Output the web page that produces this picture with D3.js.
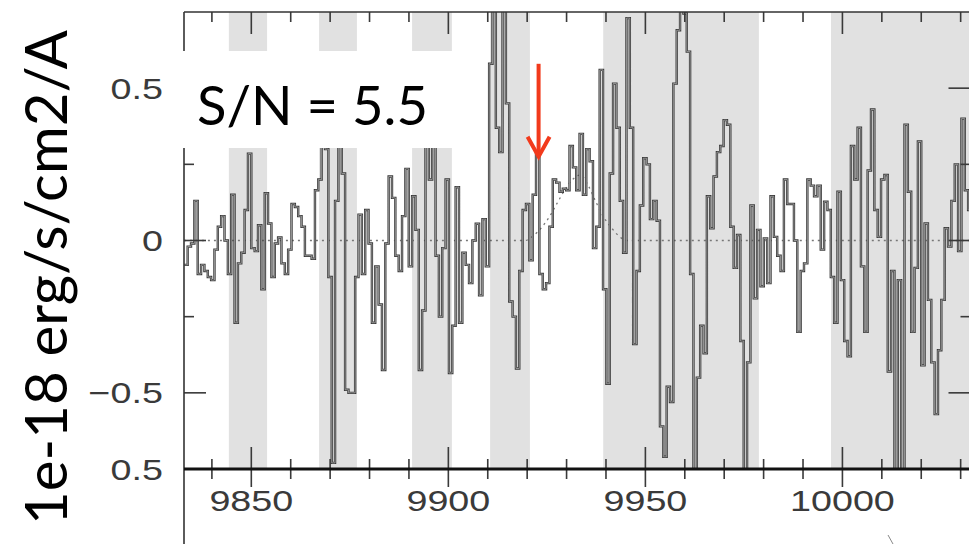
<!DOCTYPE html>
<html><head><meta charset="utf-8">
<script src="https://cdn.jsdelivr.net/npm/d3@7"></script>
<style>html,body{margin:0;padding:0;background:#fff;overflow:hidden}</style>
</head><body>
<svg id="chart" width="969" height="544"></svg>
<script>
// ---- data ----
const binStart = 9833.0;   // first pixel edge, Angstrom
const binWidth = 0.85;     // spectral pixel width, Angstrom
const flux = [
 -0.08,-0.02,-0.01,0.13,-0.11,-0.08,-0.1,-0.12,-0.13,-0.03,
 0.045,0.08,0.0,-0.11,0.15,-0.27,-0.075,-0.04,0.1,0.285,
 -0.025,-0.035,0.05,-0.16,0.155,0.056,-0.12,-0.01,0.01,-0.075,
 -0.11,-0.03,0.12,0.11,0.08,0.045,-0.05,-0.05,-0.06,0.165,
 0.2,0.35,0.3,-0.12,-0.73,0.13,0.38,0.22,-0.49,-0.5,
 -0.5,-0.12,0.085,-0.11,0.1,-0.01,-0.27,-0.085,-0.21,-0.425,
 -0.01,0.21,0.14,-0.05,-0.1,0.08,0.235,-0.085,0.145,0.035,
 -0.425,-0.23,0.4,0.2,0.36,-0.05,-0.25,-0.025,0.2,-0.435,
 -0.28,0.175,-0.27,-0.04,-0.08,-0.14,0.0,0.055,-0.18,0.07,
 -0.085,0.58,0.9,0.37,0.29,0.9,0.45,-0.2,-0.25,-0.42,
 -0.1,0.1,0.12,-0.065,0.15,0.285,-0.11,-0.16,-0.14,0.045,
 0.2,0.19,0.16,0.17,0.165,0.31,0.24,0.165,0.35,0.15,
 0.3,0.26,-0.025,0.045,0.56,-0.16,-0.47,0.22,0.515,0.37,
 0.13,-0.04,0.73,0.37,-0.34,-0.1,0.115,0.27,0.25,0.07,
 0.13,0.065,-0.61,-0.71,-0.48,-0.53,0.515,0.69,0.85,0.745,
 0.62,-0.11,-0.85,-0.45,-0.28,-0.37,0.145,0.04,0.21,0.29,
 0.31,0.395,0.38,0.045,-0.09,0.018,-0.33,-0.85,-0.4,0.115,
 -0.19,0.035,-0.15,0.007,-0.14,0.145,0.012,-0.05,-0.1,0.2,
 0.12,0.12,0.0,-0.3,-0.1,-0.075,0.2,0.18,0.145,0.18,
 -0.03,0.127,0.1,-0.12,-0.27,0.16,-0.13,-0.33,-0.38,0.31,
 0.2,0.37,-0.085,-0.3,0.23,0.43,0.1,0.012,0.2,0.215,
 -0.43,-0.1,-0.85,-0.13,-0.85,0.38,0.16,-0.3,-0.09,0.325,
 -0.41,0.056,-0.195,-0.4,-0.57,-0.36,-0.195,0.04,-0.02,0.13,
 0.25,-0.035,0.4,0.165,0.1
];
const modelWave = [9832.9,9919.5,9921.5,9923.5,9925.5,9927.5,9929.5,9931.5,9933.5,9935.5,9937.5,9939.5,9941.5,9943.5,9945.5,10032.5];
const modelFlux = [0,0,0.015,0.04,0.075,0.12,0.165,0.2,0.215,0.18,0.125,0.075,0.04,0.012,0,0];
const skyBands = [[9844.3,9854.0],[9867.2,9876.8],[9890.8,9900.9],[9910.6,9920.7],[9939.3,9978.8],[9997.1,10040]];
const xMajorTicks = [9850,9900,9950,10000];
const xMinorTicks = [9840,9860,9870,9880,9890,9910,9920,9930,9940,9960,9970,9980,9990,10010,10020,10030];
const xTickLabels = ["9850","9900","9950","10000"];
const yMajorTicks = [-0.5,0,0.5];
const yMinorTicks = [-0.25,0.25];
const yTickLabels = [["0.5",0.5],["0",0],["\u22120.5",-0.5]];
const yTitle = "1e-18 erg/s/cm2/A";
const annotation = "S/N = 5.5";
const arrowWave = 9922.9, arrowTop = 0.58, arrowTip = 0.275;

// ---- scales ----
const W = 969, H = 544;
const x = d3.scaleLinear().domain([9832.92, 10032.5]).range([184, 970.5]);
const y = d3.scaleLinear().domain([-0.75, 0.75]).range([469, 12]);
const svg = d3.select("#chart");
const x0 = x.range()[0], x1 = x.range()[1], yTop = y.range()[1], yBot = y.range()[0];

svg.append("defs").append("clipPath").attr("id","plot")
  .append("rect").attr("x",x0).attr("y",yTop).attr("width",x1-x0).attr("height",yBot-yTop);

const plot = svg.append("g").attr("clip-path","url(#plot)");

// sky-line bands
plot.selectAll("rect.band").data(skyBands).join("rect")
  .attr("class","band")
  .attr("x",d=>x(d[0])).attr("width",d=>x(d[1])-x(d[0]))
  .attr("y",yTop).attr("height",yBot-yTop)
  .attr("fill","#e1e1e1");

// model (dotted)
const modelLine = d3.line().x((d,i)=>x(modelWave[i])).y((d,i)=>y(modelFlux[i])).curve(d3.curveMonotoneX);
plot.append("path").datum(modelWave).attr("d",modelLine)
  .attr("fill","none").attr("stroke","#777").attr("stroke-width",1.3)
  .attr("stroke-dasharray","2,4");

// spectrum (step histogram)
const pts = flux.map((f,i)=>[binStart + i*binWidth, f]);
pts.push([binStart + flux.length*binWidth, flux[flux.length-1]]);
const step = d3.line().x(d=>x(d[0])).y(d=>y(d[1])).curve(d3.curveStepAfter);
plot.append("path").datum(pts).attr("d",step)
  .attr("fill","none").attr("stroke","#3a3a3a").attr("stroke-width",2.4);
plot.append("path").datum(pts).attr("d",step)
  .attr("fill","none").attr("stroke","#a9a9a9").attr("stroke-width",0.8);

// ---- ticks (drawn through the scales, as thin filled rects) ----
const tickCol = "#3a3a3a", tw = 1.6;
const tg = svg.append("g").attr("class","ticks");
function xt(cls, vals, yBase, len){
  tg.selectAll("rect."+cls).data(vals).join("rect").attr("class",cls)
    .attr("x",d=>x(d)-tw/2).attr("width",tw)
    .attr("y",Math.min(yBase, yBase+len)).attr("height",Math.abs(len))
    .attr("fill",tickCol);
}
function ytk(cls, vals, xBase, len){
  tg.selectAll("rect."+cls).data(vals).join("rect").attr("class",cls)
    .attr("y",d=>y(d)-tw/2).attr("height",tw)
    .attr("x",Math.min(xBase, xBase+len)).attr("width",Math.abs(len))
    .attr("fill",tickCol);
}
xt("tmin", xMinorTicks, yTop, 10);   xt("tmaj", xMajorTicks, yTop, 22);
xt("bmin", xMinorTicks, yBot, -10);  xt("bmaj", xMajorTicks, yBot, -22);
xt("lmin2", xMinorTicks, yBot, 10);  xt("lmaj2", xMajorTicks, yBot, 18);
ytk("lmin", yMinorTicks, x0, 10);    ytk("lmaj", yMajorTicks, x0, 22);
ytk("rmin", yMinorTicks, x1, -10);   ytk("rmaj", yMajorTicks, x1, -22);

// frame
svg.append("line").attr("x1",x0).attr("x2",x1).attr("y1",yTop).attr("y2",yTop).attr("stroke","#333").attr("stroke-width",1.6);
svg.append("line").attr("x1",x0).attr("x2",x0).attr("y1",yTop).attr("y2",H).attr("stroke","#333").attr("stroke-width",1.6);
svg.append("line").attr("x1",x1).attr("x2",x1).attr("y1",yTop).attr("y2",H).attr("stroke","#333").attr("stroke-width",1.6);
svg.append("line").attr("x1",x0).attr("x2",x1).attr("y1",yBot).attr("y2",yBot).attr("stroke","#111").attr("stroke-width",3);

// tick labels (figure is stretched horizontally)
const lblFont = "'Liberation Sans', Arial, Helvetica, sans-serif";
const sx = 1.3, fs = 29;
svg.selectAll("text.xl").data(xMajorTicks).join("text")
  .attr("class","xl")
  .attr("transform",d=>`translate(${x(d)},${511}) scale(${sx},1)`)
  .attr("text-anchor","middle").attr("font-family",lblFont).attr("font-size",fs)
  .attr("fill","#3a3a3a").text((d,i)=>xTickLabels[i]);
svg.selectAll("text.yl").data(yTickLabels).join("text")
  .attr("class","yl")
  .attr("transform",d=>`translate(163,${y(d[1])+10.5}) scale(${sx},1)`)
  .attr("text-anchor","end").attr("font-family",lblFont).attr("font-size",fs)
  .attr("fill","#3a3a3a").text(d=>d[0]);
// label of the panel below, sitting on the axis line
svg.append("text")
  .attr("transform",`translate(163,${yBot+10.5}) scale(${sx},1)`)
  .attr("text-anchor","end").attr("font-family",lblFont).attr("font-size",fs)
  .attr("fill","#3a3a3a").text("0.5");

// S/N box
svg.append("rect").attr("x",176).attr("y",51).attr("width",279).attr("height",97).attr("fill","#fff");
const capFont = "Lato, 'Open Sans', sans-serif";
const sn = svg.append("text").attr("x",197).attr("y",125)
  .attr("font-family",capFont).attr("font-size",57).attr("fill","#000").text(annotation);
{ const L = sn.node().getComputedTextLength(); sn.attr("font-size", 57*231/L); }

// y title
const ytl = svg.append("text").attr("transform","translate(67,277.5) rotate(-90)")
  .attr("text-anchor","middle").attr("font-family",capFont).attr("font-size",60)
  .attr("fill","#000").text(yTitle);
{ const L = ytl.node().getComputedTextLength(); ytl.attr("font-size", 60*495/L); }

// red arrow
const ax = x(arrowWave);
const ag = svg.append("g").attr("stroke","#f23a1c").attr("stroke-width",4).attr("fill","none")
  .attr("stroke-linecap","butt").attr("stroke-linejoin","miter");
ag.append("line").attr("x1",ax).attr("x2",ax).attr("y1",y(arrowTop)).attr("y2",y(arrowTip)-2);
ag.append("path").attr("d",`M${ax-11},${y(arrowTip)-20} L${ax},${y(arrowTip)} L${ax+11},${y(arrowTip)-20}`);

// small stray mark of the lower panel
svg.append("line").attr("x1",888).attr("y1",535).attr("x2",893).attr("y2",544)
  .attr("stroke","#888").attr("stroke-width",1);
</script>
</body></html>
